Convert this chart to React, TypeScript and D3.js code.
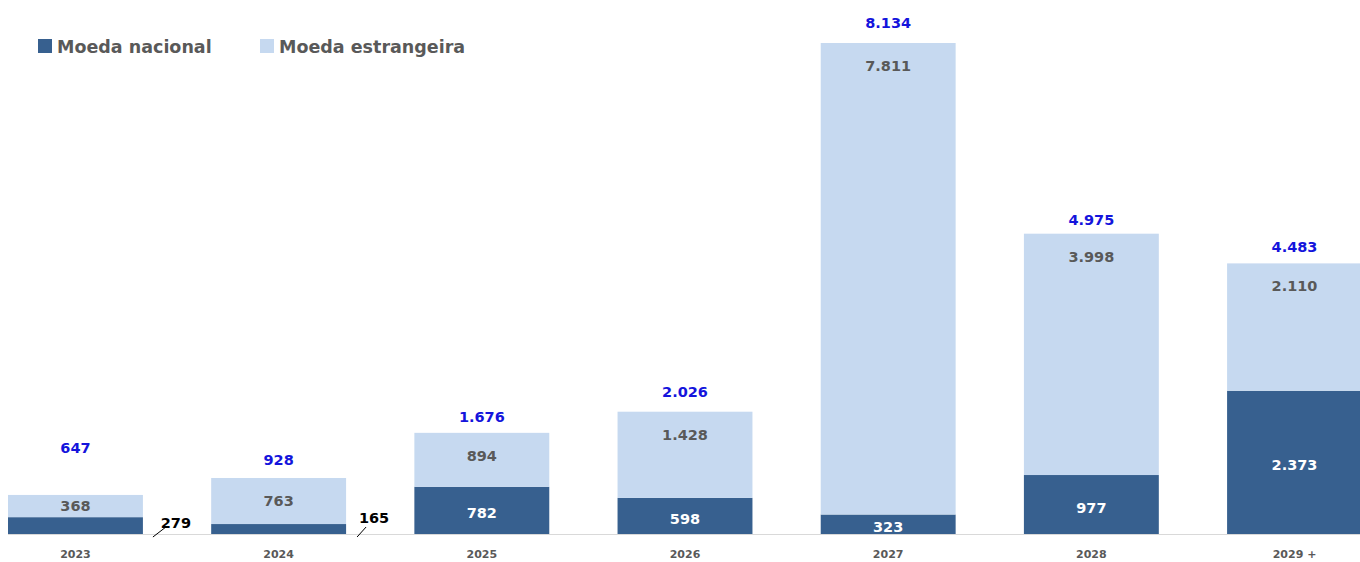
import React from "react";
import * as d3 from "d3";

const categories = ["2023", "2024", "2025", "2026", "2027", "2028", "2029 +"];
const nacional = [279, 165, 782, 598, 323, 977, 2373];
const estrangeira = [368, 763, 894, 1428, 7811, 3998, 2110];
const totals = [647, 928, 1676, 2026, 8134, 4975, 4483];
const seriesNames = ["Moeda nacional", "Moeda estrangeira"];

// layout-only settings
const W = 1360;
const H = 562;
const DARK = "#37608f";
const LIGHT = "#c6d9f0";
const BLUE = "#1414dc";
const GRAY = "#595959";
const FONT = "'DejaVu Sans', Verdana, sans-serif";
const totalOffset = [42, 13, 11, 15, 15, 9, 11];
const outsideIdx = [0, 1];
const outsideDx = [[10, 23, 33, 528], [11, 20, 28, 523]];

const fmt = (v: number) => d3.format(",")(v).replace(/,/g, ".");

export default function App() {
  const x = d3.scaleBand<string>().domain(categories).range([8, 1362]).paddingInner(0.336).paddingOuter(0);
  const y = d3.scaleLinear().domain([0, d3.max(totals) as number]).range([534, 43]);
  const bw = x.bandwidth();

  return (
    <svg width={W} height={H} style={{ position: "absolute", left: 0, top: 0, background: "#fff" }} fontFamily={FONT}>
      {/* legend */}
      <rect x={38} y={39} width={14} height={14} fill={DARK} />
      <text x={57} y={53} fontSize={17.5} fontWeight="bold" fill={GRAY}>{seriesNames[0]}</text>
      <rect x={260} y={39} width={14} height={14} fill={LIGHT} />
      <text x={279} y={53} fontSize={17.5} fontWeight="bold" fill={GRAY}>{seriesNames[1]}</text>

      {/* axis line */}
      <line x1={8} x2={W} y1={534.5} y2={534.5} stroke="#d9d9d9" strokeWidth={1} />

      {categories.map((c, i) => {
        const x0 = x(c) as number;
        const cx = x0 + bw / 2;
        const yN = y(nacional[i]);
        const yT = y(nacional[i] + estrangeira[i]);
        const segH = yN - yT;
        const estLabelY = segH < 40 ? (yT + yN) / 2 + 5 : yT + 28;
        const outside = outsideIdx.indexOf(i);
        return (
          <g key={c}>
            <rect x={x0} y={yN} width={bw} height={y(0) - yN} fill={DARK} />
            <rect x={x0} y={yT} width={bw} height={segH} fill={LIGHT} />
            {outside < 0 ? (
              <text x={cx} y={(yN + y(0)) / 2 + 8} textAnchor="middle" fontSize={14.5} fontWeight="bold" fill="#fff">
                {fmt(nacional[i])}
              </text>
            ) : (
              <g>
                <line
                  x1={x0 + bw + outsideDx[outside][0]}
                  y1={537}
                  x2={x0 + bw + outsideDx[outside][1]}
                  y2={527}
                  stroke="#000"
                  strokeWidth={1}
                />
                <text x={x0 + bw + outsideDx[outside][2]} y={outsideDx[outside][3]} textAnchor="middle" fontSize={14.5} fontWeight="bold" fill="#000">
                  {fmt(nacional[i])}
                </text>
              </g>
            )}
            <text x={cx} y={estLabelY} textAnchor="middle" fontSize={14.5} fontWeight="bold" fill={GRAY}>
              {fmt(estrangeira[i])}
            </text>
            <text x={cx} y={y(totals[i]) - totalOffset[i]} textAnchor="middle" fontSize={14.5} fontWeight="bold" fill={BLUE}>
              {fmt(totals[i])}
            </text>
            <text x={cx} y={558} textAnchor="middle" fontSize={11} fontWeight="bold" fill={GRAY}>
              {c}
            </text>
          </g>
        );
      })}
    </svg>
  );
}
